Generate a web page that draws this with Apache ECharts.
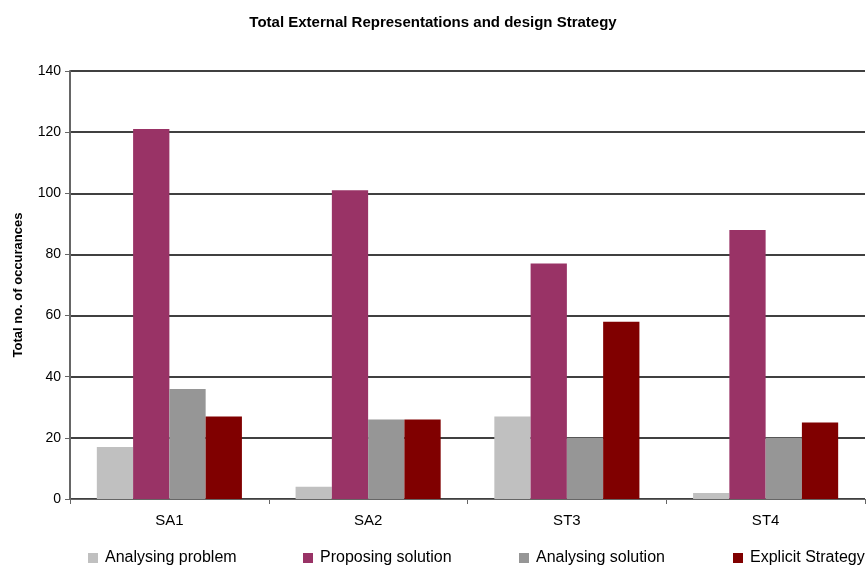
<!DOCTYPE html>
<html><head><meta charset="utf-8">
<script src="https://cdn.jsdelivr.net/npm/echarts@6/dist/echarts.min.js"></script>
<style>html,body{margin:0;padding:0;background:#fff}#c{width:866px;height:567px}</style>
</head><body><div id="c"></div>
<script>
const categories = ['SA1','SA2','ST3','ST4'];
const seriesNames = ['Analysing problem','Proposing solution','Analysing solution','Explicit Strategy'];
const analysingProblem = [17, 4, 27, 2];
const proposingSolution = [121, 101, 77, 88];
const analysingSolution = [36, 26, 20, 20];
const explicitStrategy = [27, 26, 58, 25];
const colors = ['#c0c0c0','#993366','#969696','#800000'];
const values = [analysingProblem, proposingSolution, analysingSolution, explicitStrategy];
const legendLefts = [88, 303, 519, 733];
const font = 'Liberation Sans, Arial, sans-serif';

const chart = echarts.init(document.getElementById('c'));
chart.setOption({
  animation:false,
  textStyle:{fontFamily:font},
  title:{text:'Total External Representations and design Strategy',left:'center',top:10,
    textStyle:{fontSize:15,fontWeight:'bold',color:'#000',fontFamily:font}},
  legend: seriesNames.map((n,i)=>({data:[n],left:legendLefts[i],top:550,padding:0,itemWidth:10,itemHeight:10,itemGap:0,
    icon:'rect',textStyle:{fontSize:16,color:'#000',fontFamily:font,padding:[0,0,0,2]}})),
  grid:{left:70,right:1,top:71,bottom:68,containLabel:false},
  xAxis:{type:'category',data:categories,
    axisLine:{lineStyle:{color:'#666',width:1}},
    axisTick:{show:true,length:5,lineStyle:{color:'#666'}},
    axisLabel:{color:'#000',fontSize:15,margin:14,fontFamily:font}},
  yAxis:{type:'value',min:0,max:140,interval:20,
    name:'Total no. of occurances',nameLocation:'middle',nameGap:45,nameRotate:90,
    nameTextStyle:{fontSize:13,fontWeight:'bold',color:'#000',fontFamily:font},
    axisLine:{show:true,lineStyle:{color:'#666',width:2}},
    axisTick:{show:true,length:5,lineStyle:{color:'#666'}},
    axisLabel:{color:'#000',fontSize:14,margin:9,fontFamily:font}},
  series: seriesNames.map((n,i)=>({name:n,type:'bar',data:values[i],
    itemStyle:{color:colors[i]},barGap:'0%',barCategoryGap:'27%'}))
});
chart.setOption({yAxis:{splitLine:{lineStyle:{color:'#000',width:1.5}}}});
</script></body></html>
